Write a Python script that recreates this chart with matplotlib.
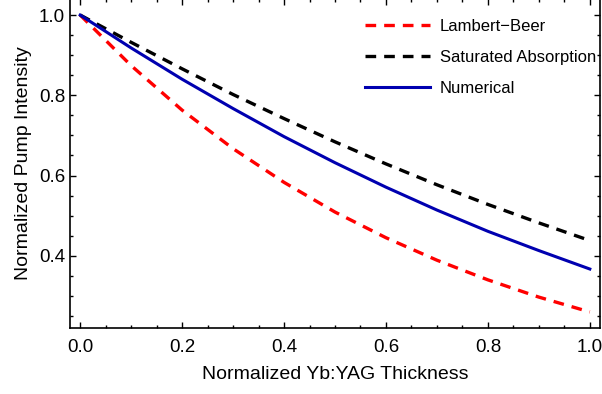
import matplotlib
matplotlib.use("Agg")
import matplotlib.pyplot as plt
from matplotlib.ticker import MultipleLocator

plt.rcParams['font.family'] = ['Liberation Sans', 'DejaVu Sans']

# values
thickness = [0.0, 0.1, 0.2, 0.3, 0.4, 0.5, 0.6, 0.7, 0.8, 0.9, 1.0]
lambert_beer = [1.0, 0.874, 0.763, 0.667, 0.583, 0.509, 0.445, 0.389, 0.340, 0.297, 0.260]
saturated = [1.0, 0.932, 0.866, 0.802, 0.742, 0.684, 0.629, 0.577, 0.528, 0.482, 0.438]
numerical = [1.0, 0.918, 0.840, 0.767, 0.697, 0.632, 0.571, 0.514, 0.461, 0.413, 0.367]

x_ticks = [0.0, 0.2, 0.4, 0.6, 0.8, 1.0]
y_ticks = [0.4, 0.6, 0.8, 1.0]

fig = plt.figure(figsize=(6.02, 3.94), dpi=100)
ax = fig.add_axes([70 / 602, 1 - 328 / 394, 530 / 602, 329 / 394])

ax.plot(thickness, lambert_beer, color='#ff0000', lw=2.4, ls=(0, (3.2, 2.4)), label='Lambert\u2212Beer')
ax.plot(thickness, saturated, color='black', lw=2.4, ls=(0, (3.2, 2.4)), label='Saturated Absorption')
ax.plot(thickness, numerical, color='#0000b0', lw=2.2, label='Numerical')

ax.set_xlim(-0.02, 1.02)
ax.set_ylim(0.22, 1.04)
ax.set_xticks(x_ticks)
ax.set_yticks(y_ticks)
ax.xaxis.set_minor_locator(MultipleLocator(0.05))
ax.yaxis.set_minor_locator(MultipleLocator(0.05))
ax.tick_params(which='both', direction='in', top=True, right=True, labelsize=13.5, width=1.0)
ax.tick_params(which='major', length=4)
ax.tick_params(which='minor', length=2.5)
ax.tick_params(axis='x', pad=8)
for s in ax.spines.values():
    s.set_linewidth(1.2)

ax.set_xlabel('Normalized Yb:YAG Thickness', fontsize=14, labelpad=7)
ax.set_ylabel('Normalized Pump Intensity', fontsize=14, labelpad=5)

ax.legend(loc='upper right', bbox_to_anchor=(1.0 + 11 / 530, 1.0 - 5 / 329), frameon=False, fontsize=12,
          handlelength=3.9, handletextpad=0.6, labelspacing=0.95)

fig.savefig('out.png', dpi=100)
